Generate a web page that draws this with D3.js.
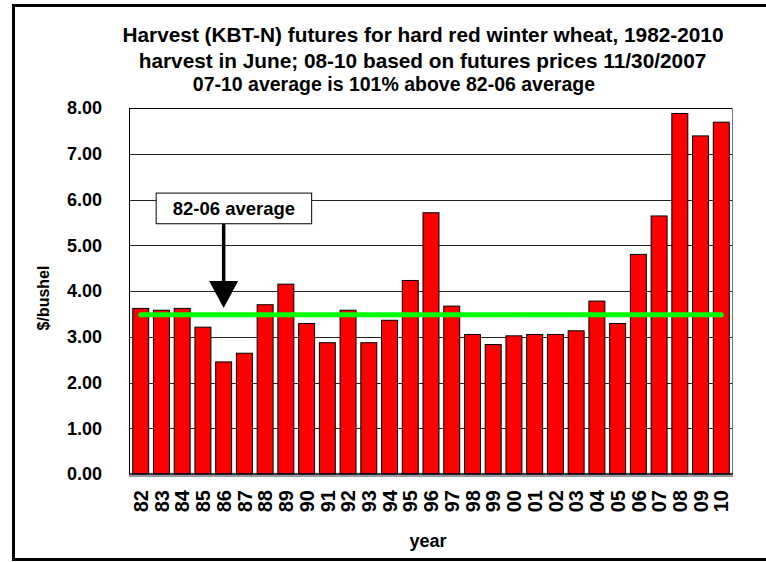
<!DOCTYPE html>
<html>
<head>
<meta charset="utf-8">
<script src="https://cdn.jsdelivr.net/npm/d3@7"></script>
<style>
  body { margin: 0; background: #fff; }
  text { font-family: Arial, 'Liberation Sans', Helvetica, sans-serif; font-weight: bold; fill: #000; }
</style>
</head>
<body>
<div id="chart"></div>
<script>
// data
var years = ['82','83','84','85','86','87','88','89','90','91','92','93','94','95','96','97','98','99','00','01','02','03','04','05','06','07','08','09','10'];
var prices = [3.62,3.58,3.62,3.21,2.45,2.64,3.70,4.15,3.29,2.87,3.58,2.87,3.36,4.23,5.71,3.67,3.05,2.83,3.02,3.05,3.05,3.13,3.78,3.29,4.80,5.64,7.88,7.39,7.69];
var yTicks = [0,1,2,3,4,5,6,7,8];
var avg8206 = 3.48;
var titleLines = [
    'Harvest (KBT-N) futures for hard red winter wheat, 1982-2010',
    'harvest in June; 08-10 based on futures prices 11/30/2007',
    '07-10 average is 101% above 82-06 average'
];
var calloutLabel = '82-06 average';
var calloutYear = '86';

// chart
var W = 766, H = 562;
var margin = { top: 108, right: 33, bottom: 88, left: 129 };
var width = W - margin.left - margin.right;
var height = H - margin.top - margin.bottom;

var svg = d3.select('#chart')
    .append('svg')
    .attr('width', W)
    .attr('height', H);

// outer frame
svg.append('rect')
    .attr('x', 13.5)
    .attr('y', 5.5)
    .attr('width', 800)
    .attr('height', 554)
    .attr('fill', 'none')
    .attr('stroke', '#000')
    .attr('stroke-width', 3);

// titles (third line is offset left in the original)
var titleY = [42, 68, 91];
var titleX = [423, 422.5, 595];
var titleAnchor = ['middle', 'middle', 'end'];
var titleSize = ['20.8px', '20.8px', '19.5px'];
svg.selectAll('.title')
    .data(titleLines)
    .enter()
    .append('text')
    .attr('class', 'title')
    .attr('x', function(d, i) { return titleX[i]; })
    .attr('y', function(d, i) { return titleY[i]; })
    .attr('text-anchor', function(d, i) { return titleAnchor[i]; })
    .style('font-size', function(d, i) { return titleSize[i]; })
    .text(function(d) { return d; });

var g = svg.append('g')
    .attr('transform', 'translate(' + margin.left + ',' + margin.top + ')');

var x = d3.scaleBand()
    .domain(years)
    .range([0, width])
    .paddingInner(0.23)
    .paddingOuter(0.18);
var y = d3.scaleLinear()
    .domain([0, 8])
    .range([height, 0]);

// gridlines
g.selectAll('.grid')
    .data(yTicks.slice(1, -1))
    .enter()
    .append('line')
    .attr('class', 'grid')
    .attr('x1', 0)
    .attr('x2', width)
    .attr('y1', function(d) { return Math.round(y(d)) + 0.5; })
    .attr('y2', function(d) { return Math.round(y(d)) + 0.5; })
    .attr('stroke', '#222')
    .attr('stroke-width', 1);

// plot border
g.append('line').attr('x1', 0).attr('x2', width).attr('y1', 0.5).attr('y2', 0.5).attr('stroke', '#000');
g.append('line').attr('x1', width - 0.5).attr('x2', width - 0.5).attr('y1', 0).attr('y2', height).attr('stroke', '#777');
g.append('line').attr('x1', 0.5).attr('x2', 0.5).attr('y1', 0).attr('y2', height).attr('stroke', '#000');

// bars
g.selectAll('.bar')
    .data(years)
    .enter()
    .append('rect')
    .attr('class', 'bar')
    .attr('x', function(d) { return x(d); })
    .attr('y', function(d, i) { return y(prices[i]); })
    .attr('width', x.bandwidth())
    .attr('height', function(d, i) { return height - y(prices[i]); })
    .attr('fill', '#ff0000')
    .attr('stroke', '#000')
    .attr('stroke-width', 1);

// baseline with shadow
g.append('line').attr('x1', 0).attr('x2', width).attr('y1', height + 2).attr('y2', height + 2).attr('stroke', '#999').attr('stroke-width', 2);
g.append('line').attr('x1', 0).attr('x2', width).attr('y1', height).attr('y2', height).attr('stroke', '#000').attr('stroke-width', 1.5);

// average line
var half = x.bandwidth() / 2;
g.append('line')
    .attr('x1', x(years[0]) + half)
    .attr('x2', x(years[years.length - 1]) + half)
    .attr('y1', y(avg8206))
    .attr('y2', y(avg8206))
    .attr('stroke', '#00ff00')
    .attr('stroke-width', 5)
    .attr('stroke-linecap', 'round');

// y axis labels
g.selectAll('.ytick')
    .data(yTicks)
    .enter()
    .append('text')
    .attr('class', 'ytick')
    .attr('x', -27)
    .attr('y', function(d) { return y(d); })
    .attr('dy', '0.36em')
    .attr('text-anchor', 'end')
    .style('font-size', '18px')
    .text(function(d) { return d3.format('.2f')(d); });

// x axis labels (rotated)
g.selectAll('.xtick')
    .data(years)
    .enter()
    .append('text')
    .attr('class', 'xtick')
    .attr('transform', function(d) {
        return 'translate(' + (x(d) + half) + ',' + (height + 16) + ') rotate(-90)';
    })
    .attr('dy', '0.36em')
    .attr('text-anchor', 'end')
    .style('font-size', '20px')
    .text(function(d) { return d; });

// axis titles
svg.append('text')
    .attr('transform', 'translate(43,' + 298 + ') rotate(-90)')
    .attr('dy', '0.36em')
    .attr('text-anchor', 'middle')
    .style('font-size', '16px')
    .text('$/bushel');

svg.append('text')
    .attr('x', margin.left + width / 2 - 3)
    .attr('y', 547)
    .attr('text-anchor', 'middle')
    .style('font-size', '18px')
    .text('year');

// callout box + arrow
var ax = x(calloutYear) + half;
var tipY = y(3.63);
var headTop = tipY - 27;
var boxTop = y(6.14), boxBot = y(5.47);
var boxL = ax - 67.5, boxR = ax + 88;

g.append('rect')
    .attr('x', boxL)
    .attr('y', boxTop)
    .attr('width', boxR - boxL)
    .attr('height', boxBot - boxTop)
    .attr('fill', '#fff')
    .attr('stroke', '#000')
    .attr('stroke-width', 1);

g.append('text')
    .attr('x', (boxL + boxR) / 2)
    .attr('y', (boxTop + boxBot) / 2)
    .attr('dy', '0.36em')
    .attr('text-anchor', 'middle')
    .style('font-size', '18.5px')
    .text(calloutLabel);

g.append('line')
    .attr('x1', ax)
    .attr('x2', ax)
    .attr('y1', boxBot)
    .attr('y2', headTop + 1)
    .attr('stroke', '#000')
    .attr('stroke-width', 3.5);

g.append('path')
    .attr('d', 'M' + (ax - 14.5) + ',' + headTop + 'L' + (ax + 14.5) + ',' + headTop + 'L' + ax + ',' + tipY + 'Z')
    .attr('fill', '#000');
</script>
</body>
</html>
